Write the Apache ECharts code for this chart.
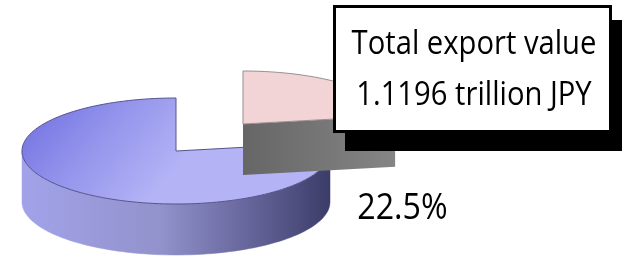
<!DOCTYPE html>
<html>
<head>
<meta charset="utf-8">
<script src="https://cdn.jsdelivr.net/npm/echarts@6/dist/echarts.min.js"></script>
<style>
html, body { margin: 0; padding: 0; background: #fff; }
#chart { width: 625px; height: 260px; }
</style>
</head>
<body>
<div id="chart"></div>
<script>
// pie slices
const categories = ['Other', 'Share'];
const shares = [77.5, 22.5];
// note box text
const noteLines = ['Total export value', '1.1196 trillion JPY'];

const total = shares.reduce((a, b) => a + b, 0);
const DEG = Math.PI / 180;

// 3d pie layout
const pie = { cx: 176, cy: 151, rx: 154, ry: 53, depth: 51, startAngle: 90 };
const explode = [0, 0.67];
const showLabel = [false, true];

const sliceColors = [
    {
        top: new echarts.graphic.LinearGradient(0, 0, 0.4, 1, [
            { offset: 0, color: '#6c6ce0' },
            { offset: 0.5, color: '#9393ec' },
            { offset: 1, color: '#b3b3f6' }
        ]),
        side: new echarts.graphic.LinearGradient(0, 0, 1, 0, [
            { offset: 0, color: '#a2a2ea' },
            { offset: 0.45, color: '#9292cc' },
            { offset: 0.72, color: '#68689e' },
            { offset: 1, color: '#3c3c6a' }
        ]),
        edge: '#55558c'
    },
    {
        top: '#f3d4d6',
        side: new echarts.graphic.LinearGradient(0, 0, 1, 0, [
            { offset: 0, color: '#666' },
            { offset: 1, color: '#858585' }
        ]),
        edge: '#9a9090'
    }
];

function pt(cx, cy, a, dy) {
    return [cx + pie.rx * Math.cos(a * DEG), cy - pie.ry * Math.sin(a * DEG) + (dy || 0)];
}

function arc(cx, cy, a0, a1, dy) {
    const pts = [];
    const n = Math.max(2, Math.ceil(Math.abs(a1 - a0) / 2));
    for (let k = 0; k <= n; k++) {
        pts.push(pt(cx, cy, a0 + (a1 - a0) * k / n, dy));
    }
    return pts;
}

function renderItem(params, api) {
    const i = params.dataIndex;
    const value = api.value(0);
    let before = 0;
    for (let k = 0; k < i; k++) before += shares[k];
    const a0 = pie.startAngle + before / total * 360;
    const a1 = a0 + value / total * 360;
    const mid = (a0 + a1) / 2;

    const cx = pie.cx + explode[i] * pie.rx * Math.cos(mid * DEG);
    const cy = pie.cy - explode[i] * pie.ry * Math.sin(mid * DEG);
    const c = sliceColors[i];
    const d = pie.depth;
    const children = [];

    // front outer wall
    [[180, 360], [540, 720]].forEach(([f0, f1]) => {
        const s = Math.max(a0, f0), e = Math.min(a1, f1);
        if (e > s) {
            const pts = arc(cx, cy, s, e, 0).concat(arc(cx, cy, e, s, d));
            children.push({ type: 'polygon', shape: { points: pts }, style: { fill: c.side, stroke: c.side, lineWidth: 0.5 } });
        }
    });

    // radial walls
    if (Math.cos(a0 * DEG) > 0.001) {
        const p = pt(cx, cy, a0, 0);
        children.push({ type: 'polygon', shape: { points: [[cx, cy], p, [p[0], p[1] + d], [cx, cy + d]] }, style: { fill: c.side } });
    }
    if (Math.cos(a1 * DEG) < -0.001) {
        const p = pt(cx, cy, a1, 0);
        children.push({ type: 'polygon', shape: { points: [[cx, cy], p, [p[0], p[1] + d], [cx, cy + d]] }, style: { fill: c.side } });
    }

    // top face
    children.push({
        type: 'polygon',
        shape: { points: [[cx, cy]].concat(arc(cx, cy, a0, a1, 0)) },
        style: { fill: c.top, stroke: c.edge, lineWidth: 1 }
    });

    if (showLabel[i]) {
        children.push({
            type: 'text',
            x: pie.cx + pie.rx * 1.47,
            y: pie.cy + pie.ry * 1.08,
            scaleX: 0.87,
            style: {
                text: value + '%',
                font: '37px "Open Sans"',
                fill: '#000',
                align: 'center',
                verticalAlign: 'middle'
            }
        });
    }

    return { type: 'group', children: children, z2: Math.round(20 - Math.sin(mid * DEG) * 10) };
}

const chart = echarts.init(document.getElementById('chart'), null, { renderer: 'canvas' });
chart.setOption({
    backgroundColor: '#fff',
    animation: false,
    series: [{
        type: 'custom',
        coordinateSystem: 'none',
        renderItem: renderItem,
        data: shares.map((v, i) => ({ name: categories[i], value: [v] }))
    }],
    graphic: [
        { type: 'rect', z: 10, shape: { x: 345, y: 20, width: 277, height: 131 }, style: { fill: '#000' } },
        { type: 'rect', z: 11, shape: { x: 334.5, y: 6.5, width: 276, height: 125 }, style: { fill: '#fff', stroke: '#000', lineWidth: 3 } },
        {
            type: 'text', z: 12, x: 474, y: 70, scaleX: 0.885,
            style: {
                text: noteLines.join('\n'),
                font: '33px "Open Sans"',
                fill: '#000',
                align: 'center',
                verticalAlign: 'middle',
                lineHeight: 51
            }
        }
    ]
});
</script>
</body>
</html>
